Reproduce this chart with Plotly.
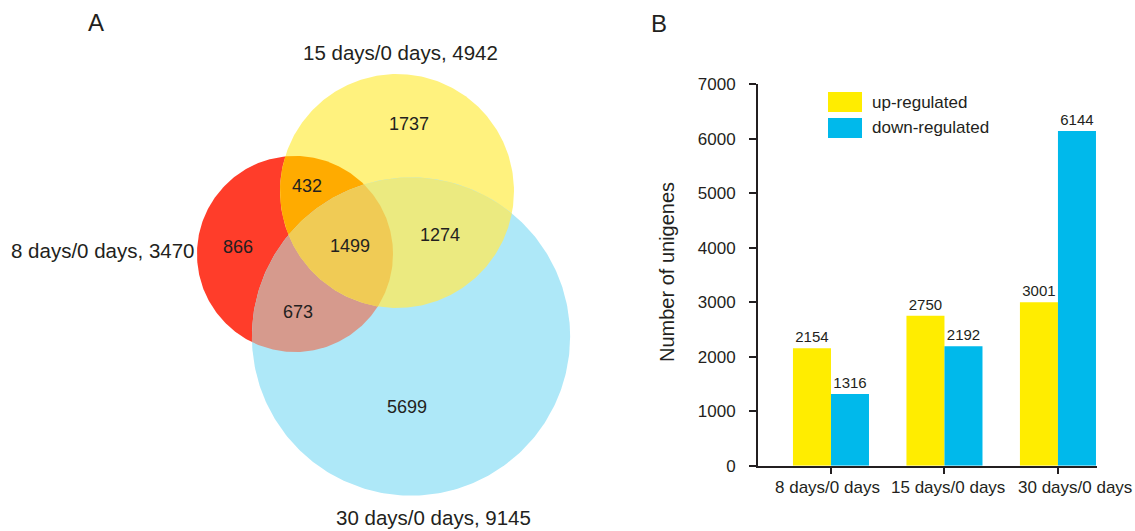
import numpy as np
import plotly.graph_objects as go

# ---------------- data ----------------
categories = ["8 days/0 days", "15 days/0 days", "30 days/0 days"]
up_regulated = [2154, 2750, 3001]
down_regulated = [1316, 2192, 6144]
series_names = ["up-regulated", "down-regulated"]
y_ticks = [0, 1000, 2000, 3000, 4000, 5000, 6000, 7000]

venn_totals = [3470, 4942, 9145]            # 8d, 15d, 30d
region_keys = ["8", "15", "30", "8&15", "8&30", "15&30", "8&15&30"]
region_counts = [866, 1737, 5699, 432, 673, 1274, 1499]

# ---------------- styles / layout positions (pixels) ----------------
W, H = 1135, 531
INK = "#231f20"
FONT = "Liberation Sans, Arial, Helvetica, sans-serif"
BAR_COLORS = ["#FFED00", "#00B9EB"]
xlabel_shift = [-3, 4, 17]   # horizontal nudges of category labels (px)

circle_centers = [(295, 254), (397, 191), (411, 336.5)]
px_per_sqrt = 1.664  # radius scale: r = k * sqrt(total)
region_colors = {
    "8": "#FF3D2A", "15": "#FFF27E", "30": "#AEE8F8",
    "8&15": "#FFAB00", "8&30": "#D69A8D", "15&30": "#EBEA80", "8&15&30": "#F0CB55",
}
region_label_pos = {
    "8": (238, 247), "15": (409, 124), "30": (407, 407),
    "8&15": (307, 186), "8&30": (298, 312), "15&30": (440, 235), "8&15&30": (350, 246),
}
set_label_pos = [(197, 250, "right"), (400, 52, "center"), (433, 517, "center")]


def circle_poly(cx, cy, r, n=360):
    t = np.linspace(0, 2 * np.pi, n, endpoint=False)
    return [(cx + r * np.cos(a), cy + r * np.sin(a)) for a in t]


def clip(subject, clipper):
    def inside(p, a, b):
        return (b[0] - a[0]) * (p[1] - a[1]) - (b[1] - a[1]) * (p[0] - a[0]) >= 0

    def inter(s, e, a, b):
        x1, y1 = s; x2, y2 = e; x3, y3 = a; x4, y4 = b
        den = (x1 - x2) * (y3 - y4) - (y1 - y2) * (x3 - x4)
        if den == 0:
            return e
        t = ((x1 - x3) * (y3 - y4) - (y1 - y3) * (x3 - x4)) / den
        return (x1 + t * (x2 - x1), y1 + t * (y2 - y1))

    out = subject
    n = len(clipper)
    for i in range(n):
        a, b = clipper[i], clipper[(i + 1) % n]
        inp, out = out, []
        if not inp:
            break
        s = inp[-1]
        for e in inp:
            if inside(e, a, b):
                if not inside(s, a, b):
                    out.append(inter(s, e, a, b))
                out.append(e)
            elif inside(s, a, b):
                out.append(inter(s, e, a, b))
            s = e
    return out


radii = [px_per_sqrt * np.sqrt(t) for t in venn_totals]
circles = [circle_poly(cx, cy, r) for (cx, cy), r in zip(circle_centers, radii)]
polys = {
    "8": circles[0], "15": circles[1], "30": circles[2],
    "8&15": clip(circles[0], circles[1]),
    "8&30": clip(circles[0], circles[2]),
    "15&30": clip(circles[1], circles[2]),
}
polys["8&15&30"] = clip(polys["8&15"], circles[2])

fig = go.Figure()

for key in region_keys:
    pts = polys[key]
    xs = [p[0] for p in pts] + [pts[0][0]]
    ys = [p[1] for p in pts] + [pts[0][1]]
    fig.add_trace(go.Scatter(
        x=xs, y=ys, fill="toself", fillcolor=region_colors[key], mode="lines",
        line=dict(width=0, color=region_colors[key]), hoverinfo="skip",
        showlegend=False, xaxis="x2", yaxis="y2"))

annotations = []
for key, cnt in zip(region_keys, region_counts):
    x, y = region_label_pos[key]
    annotations.append(dict(x=x, y=y, xref="x2", yref="y2", text=str(cnt), showarrow=False,
                            font=dict(family=FONT, size=18, color=INK),
                            xanchor="center", yanchor="middle"))
for name, total, (x, y, anc) in zip(categories, venn_totals, set_label_pos):
    annotations.append(dict(x=x, y=y, xref="x2", yref="y2", text=f"{name}, {total}",
                            showarrow=False, font=dict(family=FONT, size=20.5, color=INK),
                            xanchor=anc, yanchor="middle"))

# ---------------- bars ----------------
for vals, name, col in zip([up_regulated, down_regulated], series_names, BAR_COLORS):
    fig.add_trace(go.Bar(
        x=categories, y=vals, name=name, marker=dict(color=col, line=dict(width=0)),
        text=vals, texttemplate="%{y}", textposition="outside", constraintext="none",
        textfont=dict(family=FONT, size=15, color=INK), cliponaxis=False,
        showlegend=False, hoverinfo="skip", xaxis="x", yaxis="y"))

# category labels under the x axis
for cat, dx in zip(categories, xlabel_shift):
    annotations.append(dict(x=cat, y=1 - 487 / H, xref="x", yref="paper", text=cat,
                            xshift=dx, showarrow=False, xanchor="center", yanchor="middle",
                            font=dict(family=FONT, size=17, color=INK)))

# manual legend
leg_y = [(92, 112), (118, 138)]
shapes = []
for (y0, y1), col, name in zip(leg_y, BAR_COLORS, series_names):
    shapes.append(dict(type="rect", xref="paper", yref="paper",
                       x0=828 / W, x1=862 / W, y0=1 - y1 / H, y1=1 - y0 / H,
                       fillcolor=col, line=dict(width=0)))
    annotations.append(dict(x=870 / W, y=1 - (y0 + y1) / 2 / H, xref="paper", yref="paper",
                            text=name, showarrow=False, xanchor="left", yanchor="middle",
                            font=dict(family=FONT, size=17, color=INK)))

annotations.append(dict(x=667 / W, y=1 - 272 / H, xref="paper", yref="paper",
                        text="Number of unigenes", textangle=-90, showarrow=False,
                        xanchor="center", yanchor="middle",
                        font=dict(family=FONT, size=20, color=INK)))
annotations.append(dict(x=95.5 / W, y=1 - 22.5 / H, xref="paper", yref="paper", text="A",
                        showarrow=False, xanchor="center", yanchor="middle",
                        font=dict(family=FONT, size=24, color=INK)))
annotations.append(dict(x=659 / W, y=1 - 23 / H, xref="paper", yref="paper", text="B",
                        showarrow=False, xanchor="center", yanchor="middle",
                        font=dict(family=FONT, size=24, color=INK)))

fig.update_layout(
    width=W, height=H, margin=dict(l=0, r=0, t=0, b=0, autoexpand=False),
    paper_bgcolor="white", plot_bgcolor="white",
    barmode="group", bargap=0.33, bargroupgap=0,
    font=dict(family=FONT, color=INK),
    xaxis=dict(domain=[758 / W, 1097 / W], anchor="y", type="category",
               range=[-0.643, 2.344], showline=True, linecolor=INK, linewidth=2,
               ticks="outside", ticklen=6, tickwidth=2, tickcolor=INK,
               showticklabels=False, automargin=False,
               showgrid=False, zeroline=False, fixedrange=True),
    yaxis=dict(domain=[65.3 / H, 446.7 / H], anchor="x", range=[0, 7000],
               tickvals=y_ticks, showline=True, linecolor=INK, linewidth=2,
               ticks="outside", ticklen=7, tickwidth=2, tickcolor=INK,
               ticklabelstandoff=10, automargin=False,
               tickfont=dict(family=FONT, size=17, color=INK),
               showgrid=False, zeroline=False, fixedrange=True),
    xaxis2=dict(domain=[0, 600 / W], anchor="y2", range=[0, 600], visible=False,
                automargin=False, fixedrange=True),
    yaxis2=dict(domain=[0, 1], anchor="x2", range=[H, 0], visible=False,
                automargin=False, fixedrange=True),
    shapes=shapes, annotations=annotations,
)

fig.write_html("out.html")
